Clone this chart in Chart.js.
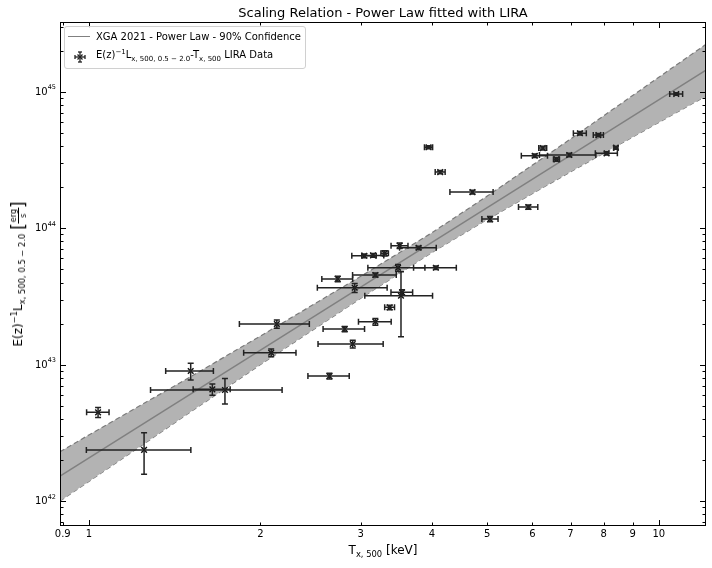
<!DOCTYPE html>
<html>
<head>
<meta charset="utf-8">
<script src="https://cdn.jsdelivr.net/npm/chart.js@4.4.1/dist/chart.umd.min.js"></script>
<style>
  body { margin: 0; background: #fff; }
  #wrap { position: relative; width: 712px; height: 568px; font-family: 'DejaVu Sans', sans-serif; color: #000; }
  #chart { position: absolute; left: 0; top: 0; }
  .lbl { position: absolute; white-space: nowrap; }
  #title { left: 383px; top: 5px; transform: translateX(-50%); font-size: 13px; }
  #xlabel { left: 383px; top: 543px; transform: translateX(-50%); font-size: 12px; }
  #ylabel { left: 18px; top: 274px; transform: translate(-50%, -50%) rotate(-90deg); font-size: 12px; }
  sub, sup { font-size: 70%; line-height: 0; }
  .frac { display: inline-block; vertical-align: middle; text-align: center; font-size: 8px; line-height: 9px; }
  .frac span { display: block; }
  .frac .num { border-bottom: 1px solid #000; padding: 0 1px; }
  .brk { font-size: 17px; vertical-align: middle; }
  .tick { position: absolute; white-space: nowrap; font-size: 10px; line-height: 12px; }
  .tick sup { font-size: 65%; position: relative; top: -1px; }
  #legend { position: absolute; left: 64px; top: 26px; width: 240px; height: 41px; border: 1px solid #d0d0d0; border-radius: 3px; background: rgba(255,255,255,0.85); font-size: 10px; }
  #legend .row { position: absolute; left: 0; white-space: nowrap; }
  #legend .txt { position: absolute; left: 31px; }
</style>
</head>
<body>
<div id="wrap">
  <canvas id="chart" width="712" height="568"></canvas>
  <div id="title" class="lbl">Scaling Relation - Power Law fitted with LIRA</div>
  <div id="xlabel" class="lbl">T<sub>x, 500</sub> [keV]</div>
  <div id="ylabel" class="lbl">E(z)<sup>−1</sup>L<sub>x, 500, 0.5 − 2.0</sub> <span class="brk">[</span><span class="frac"><span class="num">erg</span><span>s</span></span><span class="brk">]</span></div>
  <div id="legend">
    <div class="row" style="top:3px; height:16px; width:100%;">
      <div style="position:absolute; left:3px; top:6px; width:22px; height:0; border-top:1.5px solid #808080;"></div>
      <span class="txt" style="top:1px;">XGA 2021 - Power Law - 90% Confidence</span>
    </div>
    <div class="row" style="top:21px; height:17px; width:100%;">
      <svg style="position:absolute; left:8px; top:2px;" width="14" height="14" viewBox="0 0 14 14">
        <g stroke="#222" stroke-width="1.3" fill="none">
          <line x1="2" y1="7" x2="12" y2="7"/><line x1="2" y1="5" x2="2" y2="9"/><line x1="12" y1="5" x2="12" y2="9"/>
          <line x1="7" y1="2" x2="7" y2="12"/><line x1="5" y1="2" x2="9" y2="2"/><line x1="5" y1="12" x2="9" y2="12"/>
          <line x1="4.5" y1="4.5" x2="9.5" y2="9.5"/><line x1="9.5" y1="4.5" x2="4.5" y2="9.5"/>
        </g>
      </svg>
      <span class="txt" style="top:1px;">E(z)<sup>−1</sup>L<sub>x, 500, 0.5 − 2.0</sub>-T<sub>x, 500</sub> LIRA Data</span>
    </div>
  </div>
</div>
<script>
// temperaturas (keV) e luminosidades (erg/s)
const tempValues = [1.038, 1.25, 1.509, 1.647, 1.733, 2.137, 2.089, 2.643, 2.904, 2.811,
  3.182, 3.371, 2.927, 2.733, 3.182, 3.043, 3.152, 3.304, 3.51, 3.789,
  3.487, 4.063, 3.544, 3.529, 3.945, 4.135, 4.71, 5.058, 5.903, 6.257,
  6.058, 6.614, 6.964, 7.271, 7.834, 8.098, 8.408, 10.73];
const tempErrors = [0.047, 0.26, 0.145, 0.123, 0.45, 0.30, 0.22, 0.22, 0.38, 0.235,
  0.21, 0.067, 0.41, 0.17, 0.28, 0.15, 0.14, 0.05, 0.12, 0.28,
  0.40, 0.35, 0.155, 0.48, 0.065, 0.083, 0.41, 0.165, 0.23, 0.1,
  0.32, 0.08, 0.79, 0.19, 0.16, 0.36, 0.07, 0.28];
const lumValues = [4.47e42, 2.37e42, 8.98e42, 6.59e42, 6.52e42, 1.986e43, 1.222e43, 8.24e42, 1.416e43, 1.824e43,
  2.063e43, 2.63e43, 3.66e43, 4.25e43, 4.54e43, 6.28e43, 6.32e43, 6.55e43, 7.45e43, 7.19e43,
  5.13e43, 5.13e43, 3.39e43, 3.20e43, 3.92e44, 2.58e44, 1.84e44, 1.167e44, 1.43e44, 3.87e44,
  3.40e44, 3.20e44, 3.44e44, 4.97e44, 4.82e44, 3.54e44, 3.89e44, 9.64e44];
const lumErrors = [0.38e42, 0.8e42, 1.25e42, 0.62e42, 1.38e42, 0.14e43, 0.08e43, 0.4e42, 0.09e43, 0.08e43,
  0.12e43, 0.1e43, 0.28e43, 0.2e43, 0.15e43, 0.2e43, 0.2e43, 0.3e43, 0.35e43, 0.2e43,
  0.3e43, 0.15e43, 0.15e43, 1.6e43, 0.1e44, 0.07e44, 0.06e44, 0.05e44, 0.05e44, 0.12e44,
  0.1e44, 0.1e44, 0.1e44, 0.15e44, 0.12e44, 0.1e44, 0.1e44, 0.2e44];

// relação ajustada e faixa de confiança
const fitTemps = [0.89, 12.1];
const fitLums = [1.52e42, 1.44e45];
const bandTemps = [0.89, 1, 1.5, 2, 3, 4, 5, 7, 10, 12.1];
const bandUpper = [2.30e42, 3.05e42, 8.05e42, 1.62e43, 4.44e43, 9.27e43, 1.72e44, 4.51e44, 1.28e45, 2.23e45];
const bandLower = [1.00e42, 1.39e42, 4.43e42, 1.00e43, 3.07e43, 6.65e43, 1.16e44, 2.59e44, 5.97e44, 9.31e44];

// ticks
const xTicks = [0.9, 1, 2, 3, 4, 5, 6, 7, 8, 9, 10];
const yDecades = [41, 42, 43, 44, 45];

const X_MIN = 0.89, X_MAX = 12.1, Y_MIN = 6.56e41, Y_MAX = 3.25e45;

const yTickValues = [];
yDecades.forEach(d => {
  for (let m = 1; m <= 9; m++) {
    const v = m * Math.pow(10, d);
    if (v >= Y_MIN && v <= Y_MAX) yTickValues.push(v);
  }
});

// barras de erro desenhadas com as escalas do Chart.js
const errorBarPlugin = {
  id: 'errorBars',
  afterDatasetsDraw(chart) {
    const { ctx, chartArea, scales } = chart;
    const xs = scales.x, ys = scales.y;
    const cap = 3;
    ctx.save();
    ctx.beginPath();
    ctx.rect(chartArea.left, chartArea.top, chartArea.right - chartArea.left, chartArea.bottom - chartArea.top);
    ctx.clip();
    ctx.strokeStyle = '#222';
    ctx.lineWidth = 1.5;
    tempValues.forEach((t, i) => {
      const px = xs.getPixelForValue(t);
      const py = ys.getPixelForValue(lumValues[i]);
      const x0 = xs.getPixelForValue(t - tempErrors[i]);
      const x1 = xs.getPixelForValue(t + tempErrors[i]);
      const y0 = ys.getPixelForValue(lumValues[i] + lumErrors[i]);
      const y1 = ys.getPixelForValue(Math.max(lumValues[i] - lumErrors[i], Y_MIN * 0.5));
      ctx.beginPath();
      ctx.moveTo(x0, py); ctx.lineTo(x1, py);
      ctx.moveTo(x0, py - cap); ctx.lineTo(x0, py + cap);
      ctx.moveTo(x1, py - cap); ctx.lineTo(x1, py + cap);
      ctx.moveTo(px, y0); ctx.lineTo(px, y1);
      ctx.moveTo(px - cap, y0); ctx.lineTo(px + cap, y0);
      ctx.moveTo(px - cap, y1); ctx.lineTo(px + cap, y1);
      ctx.stroke();
    });
    ctx.restore();
  }
};

const isDecade = (v) => Math.abs(Math.log10(v) - Math.round(Math.log10(v))) < 1e-9;

// moldura e ticks para dentro nos quatro lados
const frameTicksPlugin = {
  id: 'frameTicks',
  afterDraw(chart) {
    const { ctx, chartArea, scales } = chart;
    const { left, right, top, bottom } = chartArea;
    ctx.save();
    ctx.strokeStyle = '#000';
    ctx.lineWidth = 1;
    ctx.strokeRect(left + 0.5, top + 0.5, right - left - 1, bottom - top - 1);
    ctx.beginPath();
    xTicks.forEach(v => {
      const px = Math.round(scales.x.getPixelForValue(v)) + 0.5;
      const len = (v === 1 || v === 10) ? 6 : 3.5;
      ctx.moveTo(px, bottom); ctx.lineTo(px, bottom - len);
      ctx.moveTo(px, top); ctx.lineTo(px, top + len);
    });
    yTickValues.forEach(v => {
      const py = Math.round(scales.y.getPixelForValue(v)) + 0.5;
      const len = isDecade(v) ? 6 : 3.5;
      ctx.moveTo(left, py); ctx.lineTo(left + len, py);
      ctx.moveTo(right, py); ctx.lineTo(right - len, py);
    });
    ctx.stroke();
    ctx.restore();
  }
};

const ctx = document.getElementById('chart').getContext('2d');
const chart = new Chart(ctx, {
  type: 'scatter',
  data: {
    datasets: [
      {
        label: 'LIRA Data',
        data: tempValues.map((t, i) => ({ x: t, y: lumValues[i] })),
        pointStyle: 'crossRot',
        pointRadius: 4,
        pointBorderWidth: 1.4,
        borderColor: '#111',
        backgroundColor: '#111',
        order: 0
      },
      {
        label: 'XGA 2021 - Power Law - 90% Confidence',
        data: fitTemps.map((t, i) => ({ x: t, y: fitLums[i] })),
        showLine: true,
        pointRadius: 0,
        borderColor: '#808080',
        borderWidth: 1.5,
        order: 1
      },
      {
        label: 'upper',
        data: bandTemps.map((t, i) => ({ x: t, y: bandUpper[i] })),
        showLine: true,
        pointRadius: 0,
        borderColor: '#7a7a7a',
        borderWidth: 1.2,
        borderDash: [5, 3],
        backgroundColor: '#b3b3b3',
        fill: '+1',
        order: 2
      },
      {
        label: 'lower',
        data: bandTemps.map((t, i) => ({ x: t, y: bandLower[i] })),
        showLine: true,
        pointRadius: 0,
        borderColor: '#7a7a7a',
        borderWidth: 1.2,
        borderDash: [5, 3],
        fill: false,
        order: 3
      }
    ]
  },
  options: {
    responsive: false,
    animation: false,
    layout: { padding: { top: 22, right: 6, left: 0, bottom: 0 } },
    plugins: {
      legend: { display: false },
      tooltip: { enabled: false },
      title: { display: false }
    },
    scales: {
      x: {
        type: 'logarithmic',
        min: X_MIN,
        max: X_MAX,
        grid: { display: false, drawTicks: false },
        border: { display: false },
        ticks: { display: false },
        afterFit: (scale) => { scale.height = 42; }
      },
      y: {
        type: 'logarithmic',
        min: Y_MIN,
        max: Y_MAX,
        grid: { display: false, drawTicks: false },
        border: { display: false },
        ticks: { display: false },
        afterFit: (scale) => { scale.width = 60; }
      }
    }
  },
  plugins: [errorBarPlugin, frameTicksPlugin]
});

// rótulos dos ticks como texto, posicionados pelas escalas
const wrap = document.getElementById('wrap');
const area = chart.chartArea;
xTicks.forEach(v => {
  const el = document.createElement('div');
  el.className = 'tick';
  el.textContent = String(v);
  el.style.left = chart.scales.x.getPixelForValue(v) + 'px';
  el.style.top = (area.bottom + 2) + 'px';
  el.style.transform = 'translateX(-50%)';
  wrap.appendChild(el);
});
yTickValues.filter(isDecade).forEach(v => {
  const el = document.createElement('div');
  el.className = 'tick';
  el.innerHTML = '10<sup>' + Math.round(Math.log10(v)) + '</sup>';
  el.style.right = (712 - area.left + 4) + 'px';
  el.style.top = chart.scales.y.getPixelForValue(v) + 'px';
  el.style.transform = 'translateY(-50%)';
  wrap.appendChild(el);
});
</script>
</body>
</html>
